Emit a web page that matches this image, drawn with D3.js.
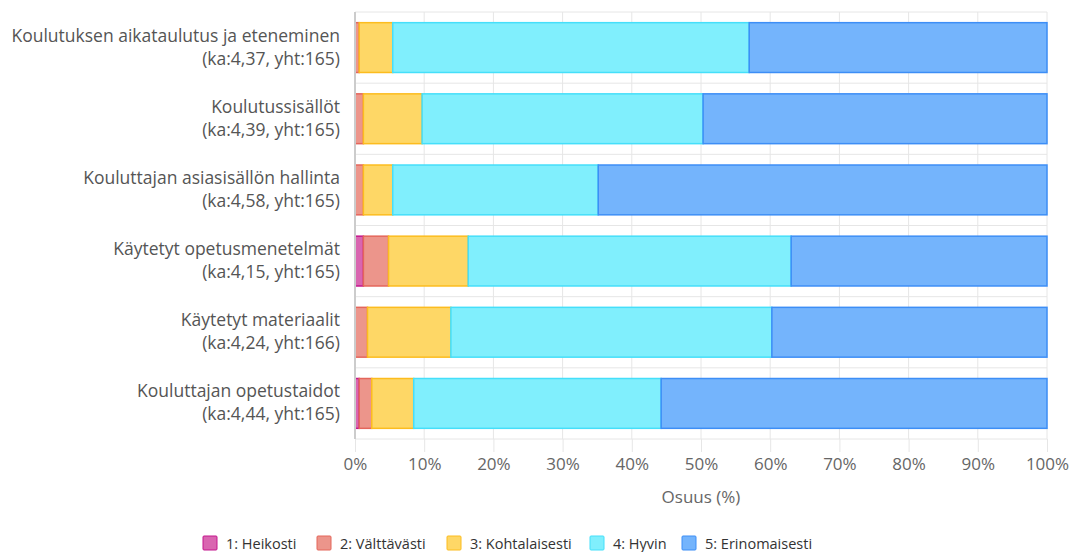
<!DOCTYPE html>
<html>
<head>
<meta charset="utf-8">
<script src="https://cdn.jsdelivr.net/npm/d3@7"></script>
<style>
  body { margin: 0; background: #fff; }
  svg { font-family: "Open Sans", sans-serif; }
</style>
</head>
<body>
<div id="chart"></div>
<script>
// categories (two-line labels)
var categories = ["Koulutuksen aikataulutus ja eteneminen", "Koulutussisällöt", "Kouluttajan asiasisällön hallinta",
  "Käytetyt opetusmenetelmät", "Käytetyt materiaalit", "Kouluttajan opetustaidot"];
var subLabels = ["(ka:4,37, yht:165)", "(ka:4,39, yht:165)", "(ka:4,58, yht:165)",
  "(ka:4,15, yht:165)", "(ka:4,24, yht:166)", "(ka:4,44, yht:165)"];

// answer counts per series
var heikosti = [0, 0, 0, 2, 0, 1];
var valttavasti = [1, 2, 2, 6, 3, 3];
var kohtalaisesti = [8, 14, 7, 19, 20, 10];
var hyvin = [85, 67, 49, 77, 77, 59];
var erinomaisesti = [71, 82, 107, 61, 66, 92];

var seriesNames = ["1: Heikosti", "2: Välttävästi", "3: Kohtalaisesti", "4: Hyvin", "5: Erinomaisesti"];
var fills = ["#d965b0", "#ec958b", "#fed766", "#80effd", "#74b4fc"];
var strokes = ["#c4178d", "#e4665b", "#fcbc1f", "#45dffa", "#3d8ef6"];
var xTicks = [0, 10, 20, 30, 40, 50, 60, 70, 80, 90, 100];

var W = 1073, H = 552;
var margin = {left: 355, right: 26, top: 12, bottom: 113};

var svg = d3.select("#chart").append("svg")
  .attr("width", W).attr("height", H);

var x = d3.scaleLinear().domain([0, 100]).range([margin.left, W - margin.right]);
var y = d3.scaleBand().domain(d3.range(categories.length))
  .range([margin.top, H - margin.bottom]).paddingInner(0).paddingOuter(0);

// build stacked table
var table = categories.map(function(c, i) {
  var counts = [heikosti[i], valttavasti[i], kohtalaisesti[i], hyvin[i], erinomaisesti[i]];
  var total = d3.sum(counts);
  var row = {idx: i};
  counts.forEach(function(v, k) { row["s" + k] = v / total * 100; });
  return row;
});
var stack = d3.stack().keys(d3.range(5).map(function(k) { return "s" + k; }));
var stacked = stack(table);

// vertical grid
svg.append("g").selectAll("line").data(xTicks).enter().append("line")
  .attr("x1", function(d) { return x(d); }).attr("x2", function(d) { return x(d); })
  .attr("y1", margin.top).attr("y2", H - margin.bottom)
  .attr("stroke", "#e6e6e6").attr("stroke-width", 1);

// horizontal grid at band edges
var edges = d3.range(categories.length + 1).map(function(i) { return margin.top + i * y.step(); });
svg.append("g").selectAll("line").data(edges).enter().append("line")
  .attr("x1", margin.left).attr("x2", W - margin.right)
  .attr("y1", function(d) { return d; }).attr("y2", function(d) { return d; })
  .attr("stroke", "#e6e6e6").attr("stroke-width", 1);

// bars
var barH = y.bandwidth() * 0.7;
svg.append("g").selectAll("g").data(stacked).enter().append("g")
  .each(function(s, k) {
    d3.select(this).selectAll("rect").data(s).enter().append("rect")
      .attr("x", function(d) { return x(d[0]); })
      .attr("width", function(d) { return Math.max(0, x(d[1]) - x(d[0])); })
      .attr("y", function(d, i) { return y(i) + (y.bandwidth() - barH) / 2; })
      .attr("height", barH)
      .attr("fill", fills[k])
      .attr("stroke", function(d) { return d[1] - d[0] > 0 ? strokes[k] : "none"; })
      .attr("stroke-width", 1.5);
  });

// left axis line
svg.append("line")
  .attr("x1", margin.left).attr("x2", margin.left)
  .attr("y1", margin.top).attr("y2", H - margin.bottom)
  .attr("stroke", "#cccccc").attr("stroke-width", 2);

// bottom axis
var xAxis = d3.axisBottom(x).tickValues(xTicks).tickSize(13).tickPadding(6)
  .tickFormat(function(d) { return d + "%"; });
var gx = svg.append("g").attr("transform", "translate(0," + (H - margin.bottom) + ")").call(xAxis);
gx.select(".domain").remove();
gx.selectAll(".tick line").attr("stroke", "#e6e6e6");
gx.selectAll(".tick text").attr("fill", "#666").style("font-size", "17px")
  .style("font-family", "'Open Sans', sans-serif");

// axis title
svg.append("text")
  .attr("x", (x(0) + x(100)) / 2).attr("y", 503)
  .attr("text-anchor", "middle").attr("fill", "#666")
  .style("font-size", "17px").text("Osuus (%)");

// category labels
var lab = svg.append("g").selectAll("text").data(categories).enter().append("text")
  .attr("text-anchor", "end").attr("fill", "#555").style("font-size", "17.5px");
lab.append("tspan")
  .attr("x", margin.left - 15)
  .attr("y", function(d, i) { return y(i) + y.bandwidth() / 2 - 6; })
  .text(function(d) { return d; });
lab.append("tspan")
  .attr("x", margin.left - 15)
  .attr("y", function(d, i) { return y(i) + y.bandwidth() / 2 + 17; })
  .text(function(d, i) { return subLabels[i]; });

// legend
var legendX = [203, 317, 447, 590, 682];
var lg = svg.append("g").selectAll("g").data(seriesNames).enter().append("g")
  .attr("transform", function(d, i) { return "translate(" + legendX[i] + ",536)"; });
lg.append("rect").attr("width", 14).attr("height", 14).attr("rx", 1)
  .attr("fill", function(d, i) { return fills[i]; })
  .attr("stroke", function(d, i) { return strokes[i]; }).attr("stroke-width", 1);
lg.append("text").attr("x", 23).attr("y", 12.5).attr("fill", "#333")
  .style("font-size", "14.5px").text(function(d) { return d; });
</script>
</body>
</html>
